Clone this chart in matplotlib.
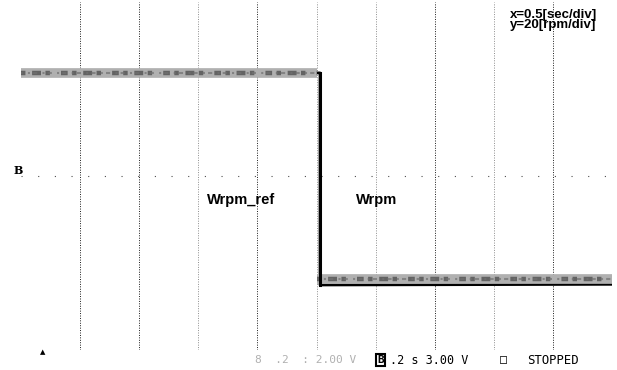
import matplotlib.pyplot as plt

# =========================
# DATA (oscilloscope capture, 0.5 s/div, 20 rpm/div)
# =========================
t_ref = [0.0, 2.50, 2.50, 5.0]
w_ref = [47.4, 47.4, -47.2, -47.2]

t_w = [0.0, 2.53, 2.53, 5.0]
w_rpm = [47.4, 47.4, -50.1, -49.8]

grid_x = [0.5, 1.0, 1.5, 2.0, 2.5, 3.0, 3.5, 4.0, 4.5, 5.0]
grid_alpha = [0.9, 0.9, 0.45, 0.9, 0.45, 0.45, 0.9, 0.45, 0.9, 0.7]

# =========================
# FIGURE
# =========================
fig = plt.figure(figsize=(6.17, 3.70), dpi=100)
fig.patch.set_facecolor("white")
ax = fig.add_axes([21 / 617, 20 / 370, 591 / 617, 348 / 370])
ax.set_xlim(0, 5)
ax.set_ylim(-80, 80)
ax.axis("off")

# dotted grid
for gx, ga in zip(grid_x, grid_alpha):
    ax.axvline(gx, color="black", lw=0.7, ls=(0, (1, 1.5)), alpha=ga, zorder=1)
ax.axhline(0, color="black", lw=0.8, ls=(0, (1, 14)), alpha=0.7, zorder=1)

# Wrpm (black) underneath the noisy reference band
ax.plot(t_w, w_rpm, color="black", lw=2.0, zorder=3)

# Wrpm_ref: speckled grey band (horizontal runs only)
for sl in (slice(0, 2), slice(2, 4)):
    ax.plot(t_ref[sl], w_ref[sl], color="#b0b0b0", lw=7, zorder=4,
            solid_capstyle="butt")
    ax.plot(t_ref[sl], w_ref[sl], color="#4a4a4a", lw=3.2,
            ls=(0, (1, 1.5, 2, 1, 1, 2.5, 1.5, 1)), alpha=0.75, zorder=5)
    ax.plot(t_ref[sl], w_ref[sl], color="#707070", lw=1.5,
            ls=(1.2, (2, 2.5, 1, 1.5)), alpha=0.7, zorder=5)

# vertical drop of Wrpm drawn on top
ax.plot(t_w[1:3], w_rpm[1:3], color="black", lw=2.2, zorder=6)

# labels
ax.text(4.14, 74.2, "x=0.5[sec/div]", fontsize=9.5, fontweight="bold",
        family="Liberation Sans", va="center")
ax.text(4.14, 69.2, "y=20[rpm/div]", fontsize=9.5, fontweight="bold",
        family="Liberation Sans", va="center")
ax.text(1.57, -11, "Wrpm_ref", fontsize=10.5, fontweight="bold",
        family="Liberation Sans", va="center")
ax.text(2.83, -11, "Wrpm", fontsize=10.5, fontweight="bold",
        family="Liberation Sans", va="center")

# scope markers / status line
fig.text(14 / 617, 1 - 170 / 370, "B", fontsize=8, fontweight="bold",
         family="DejaVu Serif", va="center")
fig.text(43 / 617, 1 - 352 / 370, "\u25b2", fontsize=5, ha="center", va="center")
fig.text(255 / 617, 1 - 360 / 370, "8  .2  : 2.00 V", fontsize=8,
         family="DejaVu Sans Mono", color="#b0b0b0", va="center")
fig.text(377 / 617, 1 - 360 / 370, "B", fontsize=8, family="DejaVu Sans Mono",
         va="center", fontweight="bold",
         bbox=dict(boxstyle="square,pad=0.1", fc="white", ec="black", lw=1.5))
fig.text(390 / 617, 1 - 360 / 370, ".2 s 3.00 V", fontsize=8.5,
         family="DejaVu Sans Mono", va="center")
fig.text(500 / 617, 1 - 360 / 370, "\u25a1", fontsize=8.5,
         family="DejaVu Sans Mono", va="center")
fig.text(527 / 617, 1 - 360 / 370, "STOPPED", fontsize=8.8,
         family="DejaVu Sans Mono", va="center")

plt.savefig("out.png", dpi=100)
